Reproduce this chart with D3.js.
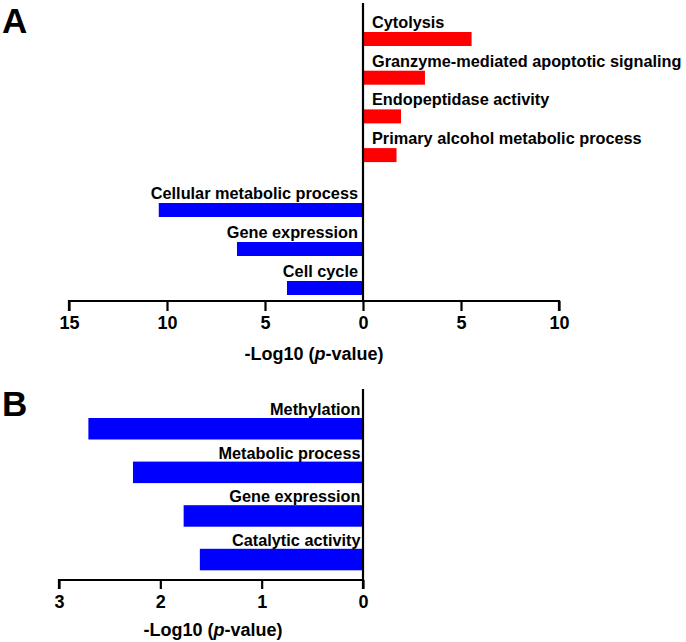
<!DOCTYPE html>
<html><head><meta charset="utf-8">
<script src="https://cdn.jsdelivr.net/npm/d3@7"></script>
<style>
html,body{margin:0;padding:0;background:#fff;}
svg{display:block;}
text{font-family:"Liberation Sans",Arial,sans-serif;font-weight:bold;fill:#000;}
</style></head><body>
<svg id="chart" width="686" height="642"></svg>
<script>
// Panel A data
const upCategoriesA = ["Cytolysis","Granzyme-mediated apoptotic signaling","Endopeptidase activity","Primary alcohol metabolic process"];
const upValuesA = [5.54, 3.16, 1.94, 1.71];
const downCategoriesA = ["Cellular metabolic process","Gene expression","Cell cycle"];
const downValuesA = [10.42, 6.43, 3.88];
const ticksA = [-15,-10,-5,0,5,10];
// Panel B data
const categoriesB = ["Methylation","Metabolic process","Gene expression","Catalytic activity"];
const valuesB = [2.71, 2.27, 1.77, 1.61];
const ticksB = [-3,-2,-1,0];
const axisTitle = "-Log10 (";

const svg = d3.select("#chart");
const red = "#ff0000", blue = "#0000ff";
const labelSize = 16.3, tickSize = 18, titleSize = 18, letterSize = 35;

// ----- Panel A -----
const xA = d3.scaleLinear().domain([-15,10]).range([69,559]);
const yUp = d3.scaleBand().domain(upCategoriesA).range([32,162.1]).paddingInner(1-14/38.7).paddingOuter(0);
const yDown = d3.scaleBand().domain(downCategoriesA).range([203,295]).paddingInner(1-14/39).paddingOuter(0);
const axisYA = 301;

const gA = svg.append("g");
gA.selectAll("rect.up").data(upCategoriesA).join("rect")
  .attr("x", xA(0)).attr("y", d=>yUp(d))
  .attr("width", (d,i)=>xA(upValuesA[i])-xA(0)).attr("height", yUp.bandwidth())
  .attr("fill", red);
gA.selectAll("text.up").data(upCategoriesA).join("text")
  .attr("x", xA(0)+9).attr("y", d=>yUp(d)-4)
  .attr("font-size", labelSize).text(d=>d);

gA.selectAll("rect.down").data(downCategoriesA).join("rect")
  .attr("x", (d,i)=>xA(-downValuesA[i])).attr("y", d=>yDown(d))
  .attr("width", (d,i)=>xA(0)-xA(-downValuesA[i])).attr("height", yDown.bandwidth())
  .attr("fill", blue);
gA.selectAll("text.down").data(downCategoriesA).join("text")
  .attr("x", xA(0)-5).attr("y", d=>yDown(d)-4).attr("text-anchor","end")
  .attr("font-size", labelSize).text(d=>d);

const axA = gA.append("g").attr("transform",`translate(0,${axisYA})`)
  .call(d3.axisBottom(xA).tickValues(ticksA).tickFormat(d=>Math.abs(d)).tickSize(10).tickPadding(5));
axA.select(".domain").attr("stroke","#000").attr("stroke-width",2.2).attr("d",`M${xA(-15)},10V0H${xA(10)}V10`);
axA.selectAll(".tick line").attr("stroke","#000").attr("stroke-width",2.2);
axA.selectAll(".tick text").attr("font-size",tickSize).attr("font-family","Liberation Sans, Arial, sans-serif").attr("font-weight","bold");
gA.append("line").attr("x1",xA(0)).attr("x2",xA(0)).attr("y1",3).attr("y2",axisYA)
  .attr("stroke","#000").attr("stroke-width",2.2);
const tA = gA.append("text").attr("x",(xA(-15)+xA(10))/2).attr("y",360).attr("text-anchor","middle").attr("font-size",titleSize);
tA.append("tspan").text(axisTitle);
tA.append("tspan").attr("font-style","italic").text("p");
tA.append("tspan").text("-value)");
svg.append("text").attr("x",2).attr("y",33).attr("font-size",letterSize).attr("font-family","Liberation Sans, Arial, sans-serif").text("A");

// ----- Panel B -----
const xB = d3.scaleLinear().domain([-3,0]).range([59,363]);
const yB = d3.scaleBand().domain(categoriesB).range([418,570.3]).paddingInner(1-21.5/43.6).paddingOuter(0);
const axisYB = 580;
const gB = svg.append("g");
gB.selectAll("rect").data(categoriesB).join("rect")
  .attr("x",(d,i)=>xB(-valuesB[i])).attr("y",d=>yB(d))
  .attr("width",(d,i)=>xB(0)-xB(-valuesB[i])).attr("height",yB.bandwidth())
  .attr("fill",blue);
gB.selectAll("text.lab").data(categoriesB).join("text")
  .attr("x",xB(0)-2.5).attr("y",d=>yB(d)-3).attr("text-anchor","end")
  .attr("font-size",labelSize).text(d=>d);
const axB = gB.append("g").attr("transform",`translate(0,${axisYB})`)
  .call(d3.axisBottom(xB).tickValues(ticksB).tickFormat(d=>Math.abs(d)).tickSize(9).tickPadding(6));
axB.select(".domain").attr("stroke","#000").attr("stroke-width",2.2).attr("d",`M${xB(-3)},9V0H${xB(0)}V9`);
axB.selectAll(".tick line").attr("stroke","#000").attr("stroke-width",2.2);
axB.selectAll(".tick text").attr("font-size",tickSize).attr("font-family","Liberation Sans, Arial, sans-serif").attr("font-weight","bold");
gB.append("line").attr("x1",xB(0)).attr("x2",xB(0)).attr("y1",389).attr("y2",axisYB)
  .attr("stroke","#000").attr("stroke-width",2.2);
const tB = gB.append("text").attr("x",(xB(-3)+xB(0))/2+2).attr("y",636).attr("text-anchor","middle").attr("font-size",titleSize);
tB.append("tspan").text(axisTitle);
tB.append("tspan").attr("font-style","italic").text("p");
tB.append("tspan").text("-value)");
svg.append("text").attr("x",2).attr("y",416).attr("font-size",letterSize).attr("font-family","Liberation Sans, Arial, sans-serif").text("B");
</script>
</body></html>
